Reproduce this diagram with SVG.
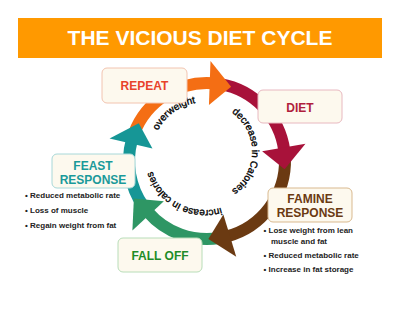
<svg xmlns="http://www.w3.org/2000/svg" xmlns:xlink="http://www.w3.org/1999/xlink" width="400" height="309" viewBox="0 0 400 309">
<style>
text{font-family:"Liberation Sans",Arial,Helvetica,sans-serif}
.box{fill:#FDF9EE;stroke-width:1}
.lbl{font-size:12px;font-weight:bold;text-anchor:middle}
.bul{font-size:8px;font-weight:bold;fill:#222}
.arc{font-size:10px;fill:#000;stroke:#000;stroke-width:0.35}
.shaft{fill:none;stroke-width:12}
</style>
<defs>
<path id="pOver" d="M152.1,151.8 A53,53 0 0 1 217.4,103.5"/>
<path id="pDec" d="M213.2,105.2 A47,47 0 0 1 213.2,197.8"/>
<path id="pInc" d="M232.5,202.6 A55,55 0 0 1 150.1,158.8"/>
</defs>
<rect width="400" height="309" fill="#fff"/>
<g id="title">
<rect x="18" y="18" width="364" height="40" fill="#FF9900"/>
<text x="200" y="45" font-size="21" font-weight="bold" fill="#fff" text-anchor="middle">THE VICIOUS DIET CYCLE</text>
</g>
<g id="connectors">
<circle class="shaft" cx="207" cy="161" r="78" stroke="#169696" stroke-dasharray="68.07 600" transform="rotate(145 207 161)"/>
<circle class="shaft" cx="207" cy="161" r="78" stroke="#F46E14" stroke-dasharray="99.38 600" transform="rotate(201 207 161)"/>
<circle class="shaft" cx="207" cy="161" r="78" stroke="#A8123A" stroke-dasharray="98.02 600" transform="rotate(280 207 161)"/>
<circle class="shaft" cx="207" cy="161" r="78" stroke="#6B3A12" stroke-dasharray="104.83 600" transform="rotate(358 207 161)"/>
<circle class="shaft" cx="207" cy="161" r="78" stroke="#2E9664" stroke-dasharray="78.96 600" transform="rotate(81 207 161)"/>
<polygon points="263,161 307,161 282,182.5" fill="#169696" transform="rotate(193 207 161)"/>
<polygon points="263,161 307,161 282,182.5" fill="#F46E14" transform="rotate(272 207 161)"/>
<polygon points="263,161 307,161 282,182.5" fill="#A8123A" transform="rotate(350 207 161)"/>
<polygon points="263,161 307,161 282,182.5" fill="#6B3A12" transform="rotate(73 207 161)"/>
<polygon points="266,161 309,161 286,183.5" fill="#2E9664" transform="rotate(137 207 161)"/>
<text class="arc" font-size="11"><textPath xlink:href="#pOver" href="#pOver" startOffset="50%" text-anchor="middle">overweight</textPath></text>
<text class="arc" font-size="9.5"><textPath xlink:href="#pDec" href="#pDec" startOffset="50%" text-anchor="middle">decrease in Calories</textPath></text>
<text class="arc" font-size="10.5"><textPath xlink:href="#pInc" href="#pInc" startOffset="50%" text-anchor="middle">increase in calories</textPath></text>
</g>
<g id="repeat">
<rect class="box" x="102" y="68" width="85" height="35" rx="5" stroke="#F2C4B0"/>
<text class="lbl" x="144.5" y="89.5" fill="#E8432B">REPEAT</text>
</g>
<g id="diet">
<rect class="box" x="258" y="90" width="84" height="33" rx="5" stroke="#E8B8C0"/>
<text class="lbl" x="300" y="111.5" fill="#B01E3C">DIET</text>
</g>
<g id="famine">
<rect class="box" x="268" y="188" width="84" height="34" rx="5" stroke="#D9B98F"/>
<text class="lbl" x="310" y="203" fill="#6B3A12">FAMINE</text>
<text class="lbl" x="310" y="217" fill="#6B3A12">RESPONSE</text>
</g>
<g id="famine-list">
<text class="bul" x="263.5" y="233">• Lose weight from lean</text>
<text class="bul" x="271" y="244">muscle and fat</text>
<text class="bul" x="263.5" y="258">• Reduced metabolic rate</text>
<text class="bul" x="263.5" y="272">• Increase in fat storage</text>
</g>
<g id="fall-off">
<rect class="box" x="118" y="238" width="84" height="34" rx="5" stroke="#B8DDB8"/>
<text class="lbl" x="160" y="260" fill="#1E8C28">FALL OFF</text>
</g>
<g id="feast">
<rect class="box" x="52" y="154" width="83" height="34" rx="5" stroke="#A8D8D8"/>
<text class="lbl" x="93" y="170" fill="#1A9A9A">FEAST</text>
<text class="lbl" x="93" y="183.5" fill="#1A9A9A">RESPONSE</text>
</g>
<g id="feast-list">
<text class="bul" x="25" y="198">• Reduced metabolic rate</text>
<text class="bul" x="25" y="213">• Loss of muscle</text>
<text class="bul" x="25" y="228">• Regain weight from fat</text>
</g>
</svg>
